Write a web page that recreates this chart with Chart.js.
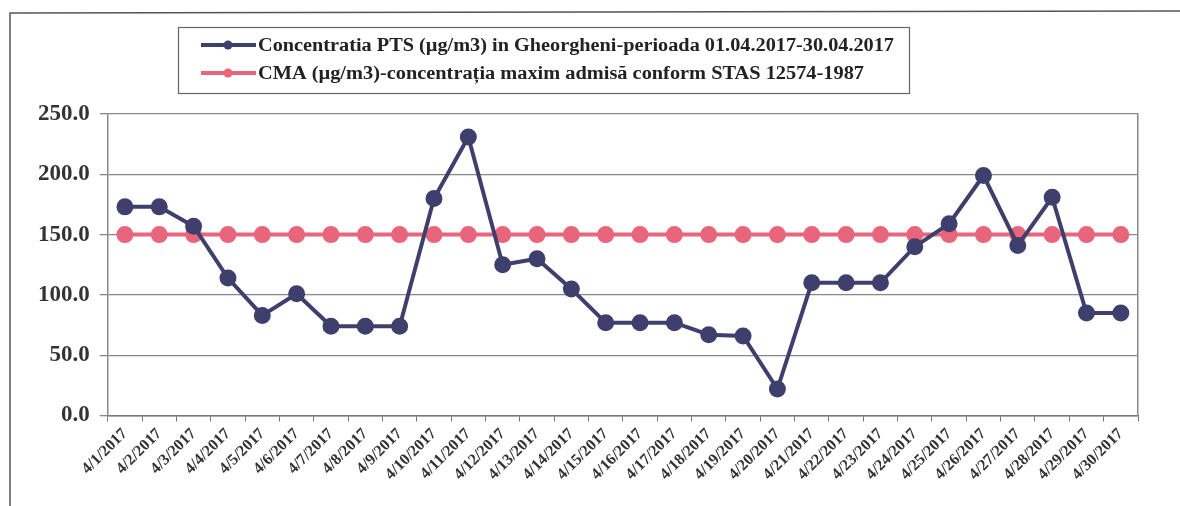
<!DOCTYPE html>
<html>
<head>
<meta charset="utf-8">
<script src="https://cdn.jsdelivr.net/npm/chart.js@4/dist/chart.umd.min.js"></script>
<style>
  html, body { margin: 0; padding: 0; background: #fff; }
  #wrap { width: 1180px; height: 506px; }
</style>
</head>
<body>
<div id="wrap"><canvas id="chart" width="1180" height="506"></canvas></div>
<script>
// data
var days = [];
for (var d = 1; d <= 30; d++) days.push('4/' + d + '/2017');

var pts = [173, 173, 157, 114, 83, 101, 74, 74, 74, 180,
           231, 125, 130, 105, 77, 77, 77, 67, 66, 22,
           110, 110, 110, 140, 159, 199, 141, 181, 85, 85];
var cma = [150, 150, 150, 150, 150, 150, 150, 150, 150, 150,
           150, 150, 150, 150, 150, 150, 150, 150, 150, 150,
           150, 150, 150, 150, 150, 150, 150, 150, 150, 150];

var labelPts = 'Concentratia PTS (\u00b5g/m3) in Gheorgheni-perioada 01.04.2017-30.04.2017';
var labelCma = 'CMA (\u00b5g/m3)-concentra\u021bia maxim admis\u0103 conform STAS 12574-1987';

var blue = '#3f3f6e';
var pink = '#e8657c';
var serif = '"Liberation Serif", "Times New Roman", serif';

// frame + legend box drawn by hand (Excel style, two stacked rows)
var framePlugin = {
    id: 'frame',
    beforeDraw: function(chart) {
        var c = chart.ctx;
        c.save();
        c.fillStyle = '#fff';
        c.fillRect(0, 0, chart.width, chart.height);
        c.strokeStyle = '#555';
        c.lineWidth = 1.5;
        c.beginPath();
        c.moveTo(10, 506);
        c.lineTo(10, 13);
        c.lineTo(1180, 11);
        c.stroke();
        c.restore();
    },
    afterDraw: function(chart) {
        var c = chart.ctx;
        c.save();
        c.strokeStyle = '#666';
        c.lineWidth = 1.2;
        c.strokeRect(178.5, 27.5, 731, 66);
        var rows = [[labelPts, blue, 45, 636], [labelCma, pink, 73, 606]];
        rows.forEach(function(r) {
            c.strokeStyle = r[1];
            c.lineWidth = 4;
            c.beginPath();
            c.moveTo(201, r[2]);
            c.lineTo(256, r[2]);
            c.stroke();
            c.fillStyle = r[1];
            c.beginPath();
            c.arc(228, r[2], 4.5, 0, Math.PI * 2);
            c.fill();
            c.fillStyle = '#222';
            c.font = 'bold 18px ' + serif;
            c.textBaseline = 'middle';
            var w = c.measureText(r[0]).width;
            c.save();
            c.translate(258, r[2] + 1);
            c.scale(r[3] / w, 1);
            c.fillText(r[0], 0, 0);
            c.restore();
        });
        c.restore();
    }
};

new Chart(document.getElementById('chart'), {
    type: 'line',
    data: {
        labels: days,
        datasets: [
            {
                label: labelPts,
                data: pts,
                borderColor: blue,
                backgroundColor: blue,
                borderWidth: 4,
                pointRadius: 6.5,
                pointHoverRadius: 6.5,
                tension: 0,
                fill: false
            },
            {
                label: labelCma,
                data: cma,
                borderColor: pink,
                backgroundColor: pink,
                borderWidth: 4,
                pointRadius: 6.5,
                pointHoverRadius: 6.5,
                tension: 0,
                fill: false
            }
        ]
    },
    options: {
        responsive: false,
        animation: false,
        layout: { padding: { top: 114, left: 28, right: 42, bottom: 19 } },
        plugins: {
            legend: { display: false },
            tooltip: { enabled: false }
        },
        scales: {
            x: {
                offset: true,
                grid: {
                    offset: true,
                    drawOnChartArea: false,
                    color: '#777',
                    tickLength: 6
                },
                border: { color: '#777', width: 1.5 },
                ticks: {
                    autoSkip: false,
                    minRotation: 45,
                    maxRotation: 45,
                    color: '#333',
                    padding: 3,
                    font: { family: serif, size: 16, weight: 'bold' }
                }
            },
            y: {
                min: 0,
                max: 250,
                ticks: {
                    stepSize: 50,
                    color: '#333',
                    padding: 10,
                    font: { family: serif, size: 23, weight: 'bold' },
                    callback: function(v) { return v.toFixed(1); }
                },
                grid: { color: '#888', lineWidth: 1.3, tickLength: 8 },
                border: { color: '#888', width: 1.5 }
            },
            y2: {
                position: 'right',
                min: 0,
                max: 250,
                ticks: { display: false },
                grid: { drawOnChartArea: false, drawTicks: false },
                border: { color: '#888', width: 1.5 }
            }
        }
    },
    plugins: [framePlugin]
});
</script>
</body>
</html>
